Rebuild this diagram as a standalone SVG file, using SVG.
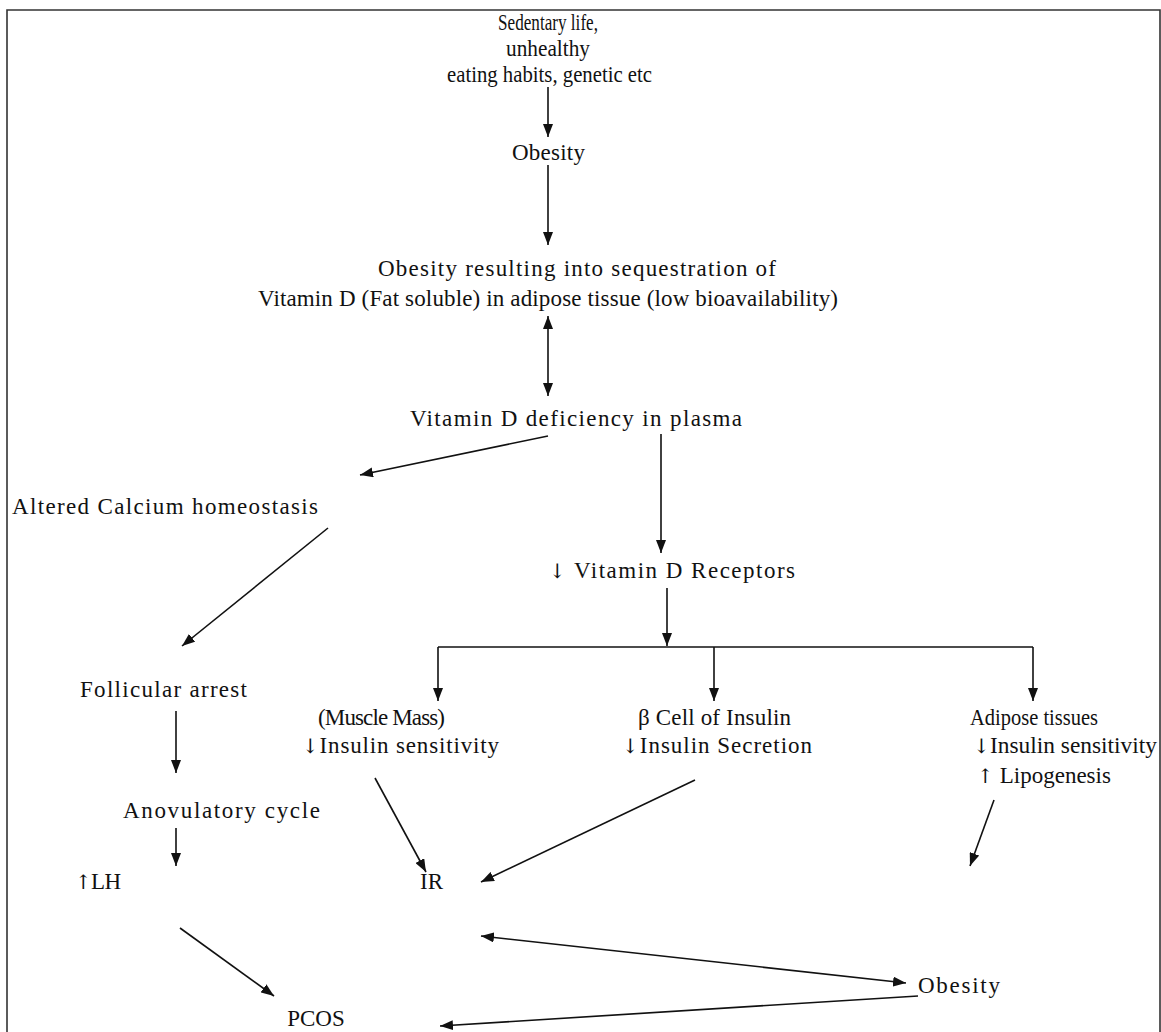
<svg xmlns="http://www.w3.org/2000/svg" width="1161" height="1032" viewBox="0 0 1161 1032">
<style>
text{font-family:"Liberation Serif","Times New Roman",serif;font-size:23px;fill:#111}
.ar{font-family:"DejaVu Serif","DejaVu Sans",serif;font-size:20px}
.c{stroke:#111;stroke-width:1.6;fill:none}
</style>
<defs>
<marker id="a" viewBox="0 0 13 10" refX="13" refY="5" markerWidth="13" markerHeight="10" orient="auto-start-reverse" markerUnits="userSpaceOnUse">
<path d="M0,0L13,5L0,10z" fill="#111"/>
</marker>
</defs>
<rect width="1161" height="1032" fill="#fff"/>
<path d="M7,1032V10H1160V1032" fill="none" stroke="#333" stroke-width="1.6"/>
<g id="connectors">
<path class="c" d="M548,87V137" marker-end="url(#a)"/>
<path class="c" d="M548,165V245" marker-end="url(#a)"/>
<path class="c" d="M548,316V396" marker-start="url(#a)" marker-end="url(#a)"/>
<path class="c" d="M548,436L360,475" marker-end="url(#a)"/>
<path class="c" d="M661,434V553" marker-end="url(#a)"/>
<path class="c" d="M328,528L182,646" marker-end="url(#a)"/>
<path class="c" d="M667,588V646" marker-end="url(#a)"/>
<path class="c" d="M438,647H1033"/>
<path class="c" d="M438,647V701" marker-end="url(#a)"/>
<path class="c" d="M714,647V701" marker-end="url(#a)"/>
<path class="c" d="M1033,647V701" marker-end="url(#a)"/>
<path class="c" d="M176,711V773" marker-end="url(#a)"/>
<path class="c" d="M176,828V866" marker-end="url(#a)"/>
<path class="c" d="M375,778L426,872" marker-end="url(#a)"/>
<path class="c" d="M695,780L481,882" marker-end="url(#a)"/>
<path class="c" d="M994,800L970,866" marker-end="url(#a)"/>
<path class="c" d="M481,936L906,983" marker-start="url(#a)" marker-end="url(#a)"/>
<path class="c" d="M918,996L440,1026" marker-end="url(#a)"/>
<path class="c" d="M180,928L274,996" marker-end="url(#a)"/>
</g>
<g id="n-cause">
<text x="498" y="30" textLength="100" lengthAdjust="spacingAndGlyphs">Sedentary life,</text>
<text x="506" y="56" textLength="84" lengthAdjust="spacingAndGlyphs">unhealthy</text>
<text x="447" y="82" textLength="205" lengthAdjust="spacingAndGlyphs">eating habits, genetic etc</text>
</g>
<g id="n-obesity1"><text x="512" y="160" textLength="73">Obesity</text></g>
<g id="n-sequestration">
<text x="378" y="276" textLength="398">Obesity resulting into sequestration of</text>
<text x="258" y="306" textLength="580">Vitamin D (Fat soluble) in adipose tissue (low bioavailability)</text>
</g>
<g id="n-vitd-def"><text x="410" y="426" textLength="332">Vitamin D deficiency in plasma</text></g>
<g id="n-calcium"><text x="12" y="514" textLength="306">Altered Calcium homeostasis</text></g>
<g id="n-vdr"><text x="549" y="578" textLength="246"><tspan class="ar">↓</tspan> Vitamin D Receptors</text></g>
<g id="n-follicular"><text x="80" y="697" textLength="167">Follicular arrest</text></g>
<g id="n-muscle">
<text x="318" y="725" textLength="127">(Muscle Mass)</text>
<text x="302" y="753" textLength="197"><tspan class="ar">↓</tspan>Insulin sensitivity</text>
</g>
<g id="n-beta">
<text x="638" y="725" textLength="153">β Cell of Insulin</text>
<text x="622" y="753" textLength="190"><tspan class="ar">↓</tspan>Insulin Secretion</text>
</g>
<g id="n-adipose">
<text x="970" y="725" textLength="128" lengthAdjust="spacingAndGlyphs">Adipose tissues</text>
<text x="973" y="753" textLength="184" lengthAdjust="spacingAndGlyphs"><tspan class="ar">↓</tspan>Insulin sensitivity</text>
<text x="977" y="783"><tspan class="ar">↑</tspan><tspan dx="6">Lipogenesis</tspan></text>
</g>
<g id="n-anovulatory"><text x="123" y="818" textLength="197">Anovulatory cycle</text></g>
<g id="n-lh"><text x="75" y="889" textLength="46"><tspan class="ar">↑</tspan>LH</text></g>
<g id="n-ir"><text x="420" y="889" textLength="23">IR</text></g>
<g id="n-obesity2"><text x="918" y="993" textLength="82">Obesity</text></g>
<g id="n-pcos"><text x="316" y="1026" text-anchor="middle">PCOS</text></g>
</svg>
